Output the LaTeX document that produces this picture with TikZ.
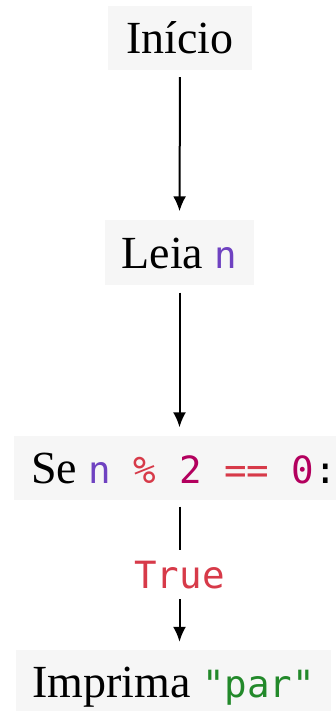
\documentclass[tikz,border=0pt]{standalone}
\usepackage{fontspec}
\setmainfont{Liberation Serif}
\setmonofont{DejaVu Sans Mono}
\usetikzlibrary{arrows.meta,calc}
\definecolor{boxfill}{HTML}{F6F6F6}
\definecolor{cvar}{HTML}{6F42C1}
\definecolor{cop}{HTML}{D73A49}
\definecolor{cnum}{HTML}{B3005E}
\definecolor{cstr}{HTML}{22892A}
\newcommand{\mcode}[1]{{\fontsize{37.5pt}{40pt}\selectfont\ttfamily #1}}
\begin{document}
\begin{tikzpicture}[x=1pt,y=-1pt,
  stepbox/.style={fill=boxfill, inner xsep=0pt, inner ysep=16.5pt,
    text height=31pt, text depth=0pt, font=\fontsize{46pt}{48pt}\selectfont},
  wideleft/.style={fill=boxfill, anchor=west, inner xsep=18pt, inner ysep=16.5pt,
    text height=31pt, text depth=0pt, font=\fontsize{46pt}{48pt}\selectfont},
  flow/.style={line width=2pt, -{Latex[length=15pt,width=13pt]}},
  lbl/.style={fill=white, inner sep=0pt, minimum height=49pt, text=cop}]
\useasboundingbox (0,0) rectangle (336,711);
\fill[white] (0,0) rectangle (336,711);
\node[stepbox, minimum width=144pt] (b1) at (180,38) {Início};
\node[stepbox, minimum width=149pt] (b2) at (179.5,252.5) {Leia \mcode{\textcolor{cvar}{n}}};
\node[wideleft, inner xsep=17pt] (b3) at (14,467.5) {Se \mcode{\textcolor{cvar}{n} \textcolor{cop}{\%} \textcolor{cnum}{2} \textcolor{cop}{==} \textcolor{cnum}{0}:}};
\node[wideleft, inner xsep=16pt] (b4) at (16,682) {Imprima \mcode{\textcolor{cstr}{"par"}}};
\draw[flow, shorten <=7pt, shorten >=9pt] (b1.south) -- (b2.north);
\draw[flow, shorten <=8pt, shorten >=8pt] (b2.south) -- (b3.north -| b2.south);
\draw[flow, shorten <=7pt, shorten >=8pt] (b3.south -| b2.south) -- node[lbl] (t) {\mcode{True}} (b4.north -| b2.south);
\end{tikzpicture}
\end{document}
